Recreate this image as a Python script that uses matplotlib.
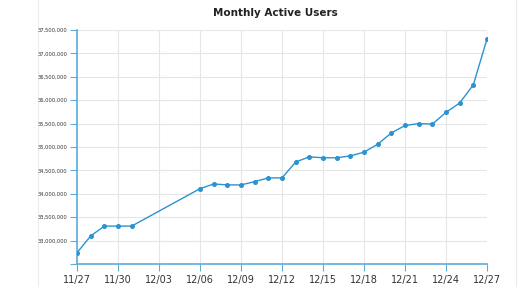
import matplotlib
matplotlib.use("Agg")
import matplotlib.pyplot as plt
import matplotlib.dates as mdates
import matplotlib.ticker as mticker
import pandas as pd

# daily values (no data 12/02 - 12/05)
dates = ["2011-11-27", "2011-11-28", "2011-11-29", "2011-11-30", "2011-12-01",
         "2011-12-06", "2011-12-07", "2011-12-08", "2011-12-09", "2011-12-10",
         "2011-12-11", "2011-12-12", "2011-12-13", "2011-12-14", "2011-12-15",
         "2011-12-16", "2011-12-17", "2011-12-18", "2011-12-19", "2011-12-20",
         "2011-12-21", "2011-12-22", "2011-12-23", "2011-12-24", "2011-12-25",
         "2011-12-26", "2011-12-27"]
users = [32740000, 33100000, 33310000, 33310000, 33310000,
         34110000, 34210000, 34190000, 34190000, 34260000,
         34340000, 34340000, 34680000, 34790000, 34770000,
         34770000, 34810000, 34890000, 35060000, 35300000,
         35460000, 35500000, 35490000, 35740000, 35940000,
         36330000, 37310000]

x = pd.to_datetime(dates)
blue = "#2b93cf"
axis_blue = "#5aaedc"

fig = plt.figure(figsize=(5.3, 2.87), dpi=100)

# faint panel border
fig.add_artist(plt.Line2D([38 / 530, 38 / 530], [0, 1], color="#ececec", lw=0.8, zorder=0))
fig.add_artist(plt.Line2D([516 / 530, 516 / 530], [0, 1], color="#ececec", lw=0.8, zorder=0))

ax = fig.add_axes([0.1453, 0.0801, 0.7736, 0.8154])

ax.plot(x, users, color=blue, lw=1.0, marker="o", ms=2.6, mfc=blue, mec=blue, zorder=3)

ax.set_xlim(pd.Timestamp("2011-11-27"), pd.Timestamp("2011-12-27"))
ax.set_ylim(32500000, 37500000)
ax.xaxis.set_major_locator(mdates.DayLocator(bymonthday=[27, 30, 3, 6, 9, 12, 15, 18, 21, 24]))
ax.xaxis.set_major_formatter(mdates.DateFormatter("%m/%d"))
ax.yaxis.set_major_locator(mticker.MultipleLocator(500000))
ax.yaxis.set_major_formatter(mticker.FuncFormatter(lambda v, p: "" if v < 32900000 else f"{v:,.0f}"))

ax.grid(True, color="#e6e6e6", lw=0.8)
ax.set_axisbelow(True)
for s in ["top", "right"]:
    ax.spines[s].set_visible(False)
for s in ["left", "bottom"]:
    ax.spines[s].set_color(axis_blue)
    ax.spines[s].set_linewidth(1.2)
ax.tick_params(axis="y", labelsize=3.7, colors=axis_blue, labelcolor="#333333", length=5, width=0.8, pad=2)
ax.tick_params(axis="x", labelsize=7, colors=axis_blue, labelcolor="#333333", length=5, width=0.8, pad=3)

fig.text(0.52, 0.955, "Monthly Active Users", ha="center", va="center",
         fontsize=7.5, fontweight="bold", color="#222222")

fig.savefig("out.png", dpi=100)
